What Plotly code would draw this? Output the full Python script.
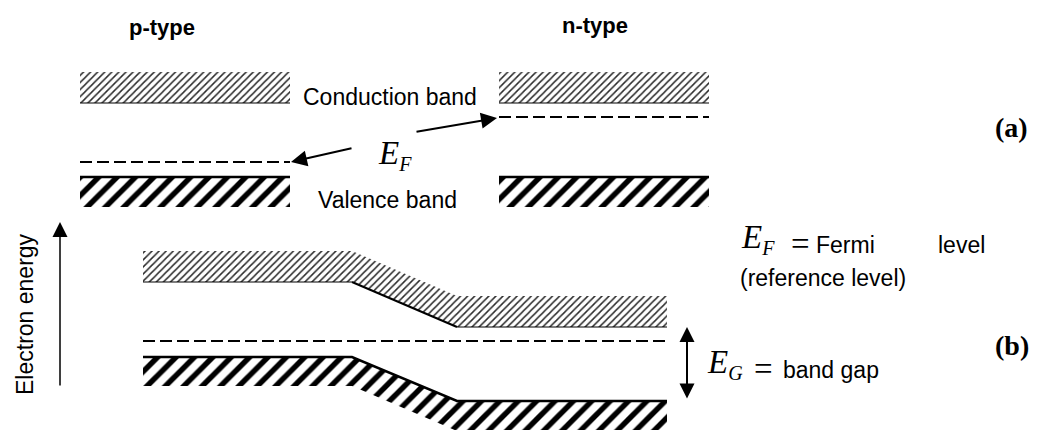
import plotly.graph_objects as go

W, H = 1037, 430

# ---- (a) separate p-type and n-type crystals -------------------------------
# diagram coordinates: x to the right, y downward (electron energy grows upward)
p_span = [80, 290]
n_span = [499, 709]
cb_a = [72, 103]          # conduction band: top, bottom edge
vb_a = [177, 207]         # valence band: top, bottom edge
ef_p_a = 162              # Fermi level, p-type
ef_n_a = 117              # Fermi level, n-type

# ---- (b) p-n junction in equilibrium ---------------------------------------
junction_x = [143, 352, 457, 667]
cb_top_b = [251, 251, 296, 296]
cb_bot_b = [282, 282, 327, 327]
vb_top_b = [357, 357, 401, 401]
vb_bot_b = [386, 386, 431, 431]
ef_b = 341

SANS = "Liberation Sans"
SERIF = "Liberation Serif"

CB_PATTERN = dict(shape="/", size=5, solidity=0.3, fgcolor="#2a2a2a",
                  fgopacity=1, bgcolor="white")
VB_PATTERN = dict(shape="/", size=13, solidity=0.42, fgcolor="black",
                  fgopacity=1, bgcolor="white")

fig = go.Figure()


def band(xs, top, bot, pattern):
    fig.add_trace(go.Scatter(
        x=list(xs) + list(xs)[::-1],
        y=list(top) + list(bot)[::-1],
        mode="lines", fill="toself", fillcolor="white",
        fillpattern=pattern, line=dict(width=0, color="black"),
        hoverinfo="skip", showlegend=False))


def edge(xs, ys, width):
    fig.add_trace(go.Scatter(x=xs, y=ys, mode="lines",
                             line=dict(color="black", width=width),
                             hoverinfo="skip", showlegend=False))


def fermi(xs, y):
    fig.add_trace(go.Scatter(x=xs, y=[y, y], mode="lines",
                             line=dict(color="black", width=2, dash="12px,5px"),
                             hoverinfo="skip", showlegend=False))


# (a) bands
for span in (p_span, n_span):
    band(span, [cb_a[0]] * 2, [cb_a[1]] * 2, CB_PATTERN)
    edge(span, [cb_a[1]] * 2, 1)
    band(span, [vb_a[0]] * 2, [vb_a[1]] * 2, VB_PATTERN)
    edge(span, [vb_a[0]] * 2, 2.5)
fermi(p_span, ef_p_a)
fermi(n_span, ef_n_a)

# (b) bent bands across the junction
band(junction_x, cb_top_b, cb_bot_b, CB_PATTERN)
band(junction_x, vb_top_b, vb_bot_b, VB_PATTERN)
edge(junction_x[:2], cb_bot_b[:2], 1)
edge(junction_x[1:3], cb_bot_b[1:3], 2)
edge(junction_x[2:], cb_bot_b[2:], 1)
edge(junction_x, vb_top_b, 2.5)
fermi([junction_x[0], junction_x[-1]], ef_b)


def text(x, y, s, size, family=SANS, xanchor="center", angle=0, color="black"):
    fig.add_annotation(x=x, y=y, text=s, showarrow=False, xanchor=xanchor,
                       yanchor="middle", textangle=angle,
                       font=dict(family=family, size=size, color=color))


def arrow(x0, y0, x1, y1, width, size, both=False):
    fig.add_annotation(x=x1, y=y1, ax=x0, ay=y0, xref="x", yref="y",
                       axref="x", ayref="y", text="", showarrow=True,
                       arrowhead=2, arrowsize=size, arrowwidth=width,
                       arrowcolor="black", standoff=0, startstandoff=0,
                       arrowside="end+start" if both else "end",
                       startarrowhead=2, startarrowsize=size)


E_F = "<i>E</i><sub><i><span style='font-size:20px'>F</span></i></sub>"
E_G = "<i>E</i><sub><i><span style='font-size:20px'>G</span></i></sub>"

text(162, 27, "<b>p-type</b>", 22)
text(595, 25, "<b>n-type</b>", 22)
text(301, 97, "Conduction band", 23, xanchor="left")
text(316, 200, "Valence band", 23, xanchor="left")
text(376, 155, E_F, 33, family=SERIF, xanchor="left")
arrow(415, 132, 497, 118, 2, 1.6)
arrow(353, 148, 291, 162, 2, 1.6)
text(1011, 127, "<b>(a)</b>", 28, family=SERIF)

text(25, 314, "Electron energy", 23, angle=-90)
arrow(60, 387, 60, 222, 1.5, 2)

text(739, 239, E_F, 33, family=SERIF, xanchor="left")
text(789, 244, "=", 33, family=SERIF, xanchor="left")
text(814, 245, "Fermi", 23, xanchor="left")
text(936, 245, "level", 23, xanchor="left")
text(823, 278, "(reference level)", 23)
text(1012, 345, "<b>(b)</b>", 28, family=SERIF)

arrow(687, 400, 687, 327, 2, 1.5, both=True)
text(705, 364, E_G, 33, family=SERIF, xanchor="left")
text(752, 369, "=", 33, family=SERIF, xanchor="left")
text(781, 370, "band gap", 23, xanchor="left")

fig.update_xaxes(range=[0, W], visible=False, fixedrange=True)
fig.update_yaxes(range=[H, 0], visible=False, fixedrange=True)
fig.update_layout(width=W, height=H, margin=dict(l=0, r=0, t=0, b=0),
                  plot_bgcolor="white", paper_bgcolor="white", showlegend=False)

fig.write_html("out.html", config={"displayModeBar": False})
